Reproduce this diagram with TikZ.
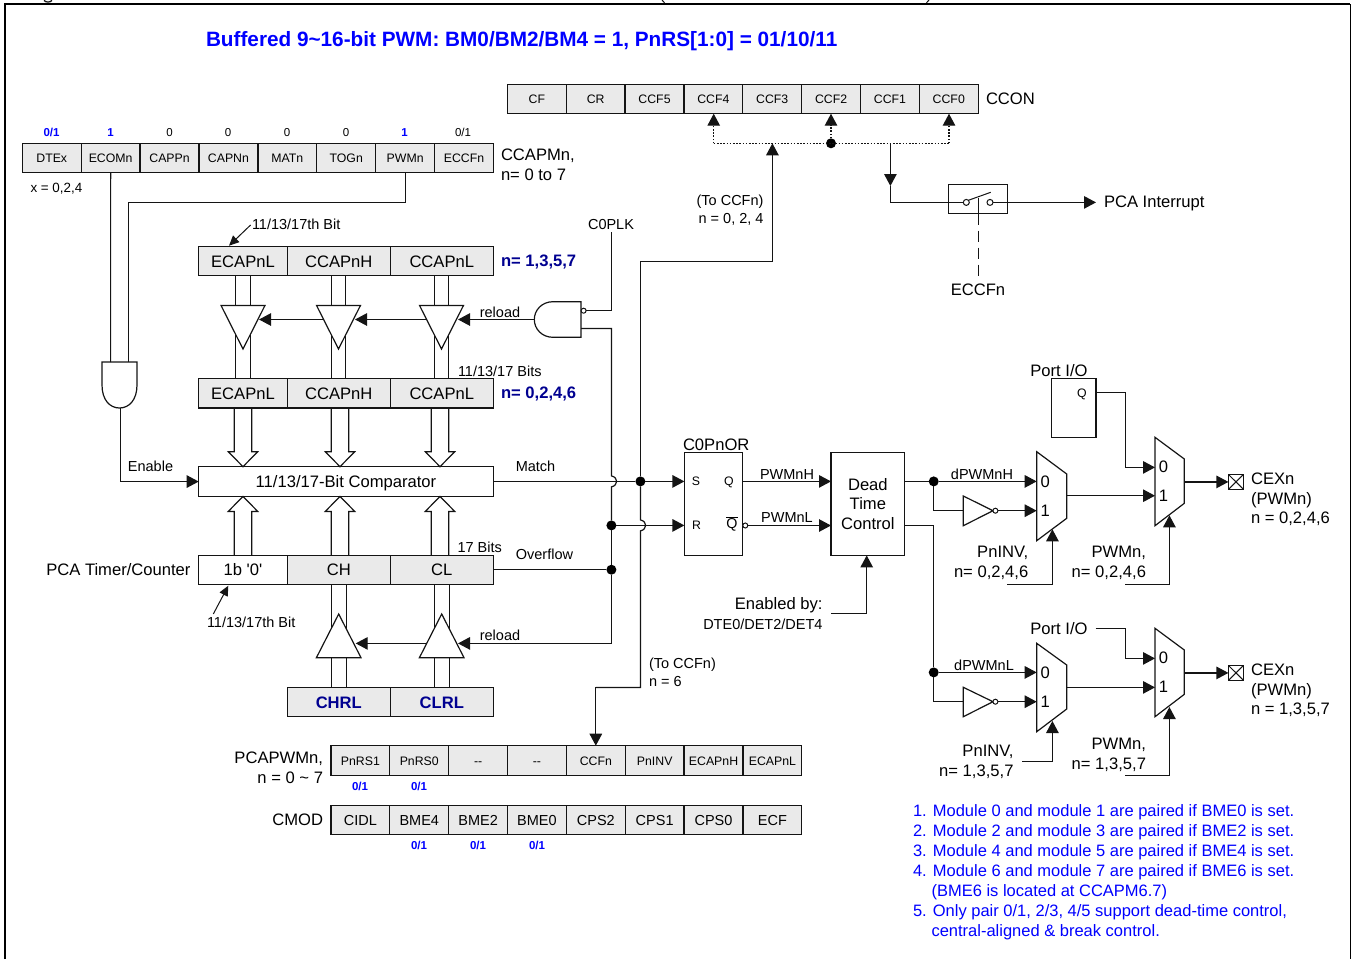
\documentclass[tikz,border=0pt]{standalone}
\usepackage{fontspec}
\setmainfont{Liberation Sans}
\usetikzlibrary{arrows.meta}
\definecolor{cellgray}{HTML}{EAEAEA}
\definecolor{linec}{HTML}{141414}
\definecolor{noteblue}{HTML}{0000FF}
\definecolor{navyt}{HTML}{000090}
\tikzset{
  conn/.style={draw=linec,line width=1.2pt,line join=miter},
  arr/.style={conn,-{Triangle[length=12pt,width=12.5pt]}},
  sarr/.style={conn,line width=1pt,-{Triangle[length=10pt,width=9pt]}},
  dotl/.style={conn,dash pattern=on 1.6pt off 1.6pt},
  shape box/.style={conn,fill=white},
  f20/.style={font=\fontsize{20.75}{24}\selectfont\bfseries,inner sep=0pt,outer sep=0pt},
  f16/.style={font=\fontsize{16.6}{20}\selectfont,text height=11.9pt,text depth=0pt,inner sep=0pt,outer sep=0pt},
  f14/.style={font=\fontsize{14.5}{18}\selectfont,text height=10.4pt,text depth=0pt,inner sep=0pt,outer sep=0pt},
  f13/.style={font=\fontsize{13.4}{16}\selectfont,text height=9.6pt,text depth=0pt,inner sep=0pt,outer sep=0pt},
  f12/.style={font=\fontsize{12.3}{15}\selectfont,text height=8.9pt,text depth=0pt,inner sep=0pt,outer sep=0pt},
  f11/.style={font=\fontsize{11.5}{14}\selectfont,text height=8.3pt,text depth=0pt,inner sep=0pt,outer sep=0pt},
  bluebit/.style={f11,font=\fontsize{11.5}{14}\selectfont\bfseries,text=noteblue},
  navylbl/.style={f16,font=\fontsize{16.6}{20}\selectfont\bfseries,text=navyt},
  note/.style={f16,font=\fontsize{16.5}{20}\selectfont,text=noteblue,anchor=west},
  reg/.style={draw=linec,fill=cellgray,line width=1.25pt,inner sep=0pt,outer sep=0pt},
  plain/.style={draw=linec,fill=white,line width=1.25pt,inner sep=0pt,outer sep=0pt},
  dotj/.style={circle,fill=black,inner sep=0pt,outer sep=0pt,minimum size=10pt},
  bubble/.style={circle,draw=linec,fill=white,line width=1pt,inner sep=0pt,outer sep=0pt,minimum size=5pt},
}
% box given by its edges: [style]{name}{x1}{x2}{y1}{y2}{text}
\newcommand{\cellbox}[7][reg]{\node[#1,minimum width={(#4-#3)*1pt},minimum height={(#6-#5)*1pt}] (#2) at ({(#3+#4)/2},{(#5+#6)/2}) {#7};}
% row of equal cells: {prefix}{x0}{width}{y1}{y2}{font style}{list}
\newcommand{\regrow}[7]{\foreach \t [count=\i from 0] in {#7} {\pgfmathsetmacro{\xa}{#2+\i*#3}\pgfmathsetmacro{\xb}{#2+(\i+1)*#3}\cellbox[reg,#6]{#1\i}{\xa}{\xb}{#4}{#5}{\t}}}
% hollow bus arrows
\newcommand{\busdown}[3]{\draw[conn] ({#1-8.8},#2)--({#1-8.8},{#3-15})--({#1-14.7},{#3-15})--(#1,#3)--({#1+14.7},{#3-15})--({#1+8.8},{#3-15})--({#1+8.8},#2);}
\newcommand{\busup}[3]{\draw[conn] ({#1-8.8},#2)--({#1-8.8},{#3+15})--({#1-14.7},{#3+15})--(#1,#3)--({#1+14.7},{#3+15})--({#1+8.8},{#3+15})--({#1+8.8},#2);}
\begin{document}
\begin{tikzpicture}[x=1pt,y=-1pt]
\useasboundingbox (0,0) rectangle (1351,959);
\begin{scope}
\clip (0,0) rectangle (1351,959);
\draw[draw=black,line width=2pt] (5,959)--(5,4)--(1350,4);
\draw[draw=black,line width=1pt] (1350,4)--(1350,959);
\draw[draw=linec,line width=1.3pt] (44,0.4) .. controls (46,2.6) and (50,2.6) .. (52,0.4);
\draw[draw=linec,line width=1pt] (662,0)--(664.5,2.8);
\draw[draw=linec,line width=1pt] (929,0)--(926.5,2.8);
\end{scope}

\node[f20,text=noteblue,anchor=west] (title) at (206,41) {Buffered 9\textasciitilde16-bit PWM: BM0/BM2/BM4 = 1, PnRS[1:0] = 01/10/11};

% ---------- CCON
\regrow{ccon}{507.4}{58.85}{84.4}{113.7}{f12}{CF,CR,CCF5,CCF4,CCF3,CCF2,CCF1,CCF0}
\node[f16,anchor=west] (cconl) at (986,98.7) {CCON};

% ---------- CCAPMn
\regrow{cm}{22.3}{58.9}{143.5}{172.7}{f12}{DTEx,ECOMn,CAPPn,CAPNn,MATn,TOGn,PWMn,ECCFn}
\node[bluebit] (b0) at (51.5,132.5) {0/1};
\node[bluebit] (b1) at (110.5,132.5) {1};
\node[f11] (b2) at (169.5,132.5) {0};
\node[f11] (b3) at (228,132.5) {0};
\node[f11] (b4) at (287,132.5) {0};
\node[f11] (b5) at (346,132.5) {0};
\node[bluebit] (b6) at (404.5,132.5) {1};
\node[f11] (b7) at (463,132.5) {0/1};
\node[f16,anchor=west] (cml1) at (501,155) {CCAPMn,};
\node[f16,anchor=west] (cml2) at (501,175) {n= 0 to 7};
\node[f13,anchor=west] (xl) at (30.5,188) {x = 0,2,4};

% ---------- AND gate (Enable)
\draw[shape box] (102,362)--(137,362)--(137,385) .. controls (137,400) and (129,408) .. (119.5,408) .. controls (110,408) and (102,400) .. (102,385)--cycle;
\coordinate (andA) at (110.6,362);
\coordinate (andB) at (128.4,362);
\coordinate (andO) at (120.4,408);
\draw[conn] (cm1.south) -- (andA);
\coordinate (pw1) at (cm6.south |- 0,202.5);
\draw[conn] (cm6.south) -- (pw1) -| (andB);

% ---------- capture register rows
\cellbox[reg,f16]{r1a}{198.7}{287.3}{246.4}{275.7}{ECAPnL}
\cellbox[reg,f16]{r1b}{287.3}{390.3}{246.4}{275.7}{CCAPnH}
\cellbox[reg,f16]{r1c}{390.3}{493.3}{246.4}{275.7}{CCAPnL}
\cellbox[reg,f16]{r2a}{198.7}{287.3}{378.4}{408}{ECAPnL}
\cellbox[reg,f16]{r2b}{287.3}{390.3}{378.4}{408}{CCAPnH}
\cellbox[reg,f16]{r2c}{390.3}{493.3}{378.4}{408}{CCAPnL}
\node[navylbl,anchor=west] (n1) at (501,260.5) {n= 1,3,5,7};
\node[navylbl,anchor=west] (n2) at (501,392.5) {n= 0,2,4,6};
\node[f14,anchor=west] (bit1) at (252,224.5) {11/13/17th Bit};
\coordinate (bit1a) at (250.6,225);
\coordinate (bit1b) at (229,245.7);
\draw[sarr] (bit1a) -- (bit1b);
\node[f14,anchor=west] (bits1) at (458,371) {11/13/17 Bits};

% reload buffers upper
\foreach \cx/\top/\bot in {243/r1a/r2a,338.5/r1b/r2b,441.5/r1c/r2c}{
  \draw[conn] ({\cx-7.3},0 |- \top.south) -- ({\cx-7.3},0 |- \bot.north);
  \draw[conn] ({\cx+7.3},0 |- \top.south) -- ({\cx+7.3},0 |- \bot.north);
  \draw[shape box] ({\cx-22},305.4)--({\cx+22},305.4)--(\cx,349)--cycle;
}

% NAND gate
\draw[shape box] (553,301.7)--(581,301.7)--(581,337.3)--(553,337.3) .. controls (542,337.3) and (534.3,329) .. (534.3,319.5) .. controls (534.3,310) and (542,301.7) .. (553,301.7)--cycle;
\node[bubble] (nb) at (583.6,310.7) {};
\coordinate (nO) at (534.3,319.5);
\coordinate (t3r) at (458,319.5);
\coordinate (t3l) at (427,319.5);
\coordinate (t2r) at (355,319.5);
\coordinate (t2l) at (324,319.5);
\coordinate (t1r) at (259,319.5);
\draw[arr] (nO) -- (t3r);
\draw[arr] (t3l) -- (t2r);
\draw[arr] (t2l) -- (t1r);
\node[f14] (rel1) at (500,312) {reload};
\node[f14] (cplk) at (611,224) {C0PLK};
\coordinate (cp1) at (611.4,232);
\draw[conn] (cp1) |- (nb.east);
\coordinate (nB) at (581,328.4);

% ---------- comparator and buses
\cellbox[plain,f16]{cmp}{198.7}{493.3}{466.7}{496.4}{11/13/17-Bit Comparator}
\cellbox[plain,f16]{t0}{198.7}{287.3}{555.4}{584.4}{1b \textquotesingle0\textquotesingle}
\cellbox[reg,f16]{tch}{287.3}{390.3}{555.4}{584.4}{CH}
\cellbox[reg,f16]{tcl}{390.3}{493.3}{555.4}{584.4}{CL}
\cellbox[reg,navylbl]{chrl}{287.3}{390.3}{687.4}{716.7}{CHRL}
\cellbox[reg,navylbl]{clrl}{390.3}{493.3}{687.4}{716.7}{CLRL}
\busdown{243}{408}{466.7}
\busdown{340}{408}{466.7}
\busdown{440}{408}{466.7}
\busup{243}{555.4}{496.4}
\busup{340}{555.4}{496.4}
\busup{440}{555.4}{496.4}
\node[f16,anchor=east] (pca) at (190.5,569.5) {PCA Timer/Counter};
\coordinate (enb) at (cmp.west);
\node[f14] (enl) at (150.5,466.5) {Enable};
\draw[arr] (andO) |- (enb);
\node[f14,anchor=west] (bit2) at (207,622.5) {11/13/17th Bit};
\coordinate (bit2a) at (213.3,614);
\coordinate (bit2b) at (228.3,585.7);
\draw[sarr] (bit2a) -- (bit2b);
\node[f14,anchor=west] (bits2) at (457.5,547) {17 Bits};

% reload buffers lower
\foreach \cx/\top/\bot in {338.7/tch/chrl,441.7/tcl/clrl}{
  \draw[conn] ({\cx-7.5},0 |- \top.south) -- ({\cx-7.5},0 |- \bot.north);
  \draw[conn] ({\cx+7.5},0 |- \top.south) -- ({\cx+7.5},0 |- \bot.north);
  \draw[shape box] ({\cx-22.3},657.7)--({\cx+22.3},657.7)--(\cx,614)--cycle;
}
\coordinate (lt2r) at (355.7,643.4);
\coordinate (lt2l) at (426.5,643.4);
\coordinate (lt1r) at (458,643.4);
\draw[arr] (lt2l) -- (lt2r);
\node[f14] (rel2) at (500,635) {reload};

% ---------- Match / Overflow nets
\node[f14] (matchl) at (535.5,466) {Match};
\node[f14] (ovl) at (544.5,554) {Overflow};
\node[dotj] (jm) at (640.4,481.4) {};
\node[dotj] (jr) at (611.4,525.4) {};
\node[dotj] (jo) at (611.4,569.7) {};
\coordinate (ccup) at (772.4,143.3);
\coordinate (ccmid) at (640.4,261.4);
\coordinate (cc6a) at (640.4,687.4);
\coordinate (cc6b) at (595.8,687.4);
\coordinate (pwf) at (595.8,745.7);
\draw[conn] (cmp.east |- jm) -- (jm);
\draw[conn] (tcl.east |- jo) -- (jo);
% vertical with bump over Match
\coordinate (nb1) at (611.4,475.9);
\coordinate (nb2) at (611.4,486.9);
\draw[conn] (nB) -| (nb1) .. controls (618.4,477.4) and (618.4,485.4) .. (nb2) -- (jr);
\draw[conn] (jr) -- (jo);
\draw[arr] (jo) |- (lt1r);
% vertical with bump over R line
\coordinate (mb1) at (640.4,519.9);
\coordinate (mb2) at (640.4,530.9);
\draw[conn] (jm) -- (mb1) .. controls (647.4,521.4) and (647.4,529.4) .. (mb2) -- (cc6a) -- (cc6b);
\draw[arr] (cc6b) -- (pwf);
\draw[arr] (jm) -- (ccmid) -| (ccup);
\node[f14,anchor=east] (tc1) at (763.5,200) {(To CCFn)};
\node[f14,anchor=east] (tc2) at (763.5,218) {n = 0, 2, 4};
\node[f14,anchor=west] (tc3) at (649,663) {(To CCFn)};
\node[f14,anchor=west] (tc4) at (649,681.5) {n = 6};

% CCF distribution
\node[dotj] (jc) at (831,143.3) {};
\coordinate (dl) at (713.7,143.3);
\coordinate (dr) at (949,143.3);
\coordinate (ct4) at (713.7,113.7);
\coordinate (ct2) at (831,113.7);
\coordinate (ct0) at (949,113.7);
\draw[dotl] (dl) -- (dr);
\draw[dotl,-{Triangle[length=12pt,width=12.5pt]}] (dl) -- (ct4);
\draw[dotl,-{Triangle[length=12pt,width=12.5pt]}] (jc) -- (ct2);
\draw[dotl,-{Triangle[length=12pt,width=12.5pt]}] (dr) -- (ct0);
\coordinate (dn) at (890.4,143.3);
\coordinate (dnm) at (890.4,186);
\draw[arr] (dn) -- (dnm);

% Interrupt switch
\cellbox[plain]{sw}{948.7}{1007.7}{184.4}{213.7}{}
\node[bubble,minimum size=6pt] (swa) at (966.3,202.4) {};
\node[bubble,minimum size=6pt] (swb) at (990,202.4) {};
\coordinate (swin) at (890.4,202.4);
\coordinate (pcaT) at (1096,202.4);
\draw[conn] (dnm) -- (swin) -- (swa.west);
\draw[arr] (swb.east) -- (pcaT);
\coordinate (lever) at (990.7,192.3);
\coordinate (levs) at (978.3,198);
\draw[conn,line width=1pt] (swa.north east) -- (lever);
\draw[conn,line width=1pt] (levs) -- (sw.south -| levs);
\coordinate (swd) at (978.3,278);
\draw[conn,dash pattern=on 11pt off 6pt] (sw.south -| swd) -- (swd);
\node[f16,anchor=west] (pcai) at (1104,201.8) {PCA Interrupt};
\node[f16] (eccfl) at (978,289.7) {ECCFn};

% ---------- PCAPWM and CMOD
\regrow{pw}{331}{58.85}{745.7}{775.7}{f12}{PnRS1,PnRS0,{-{}-},{-{}-},CCFn,PnINV,ECAPnH,ECAPnL}
\regrow{md}{331}{58.85}{805.4}{834.3}{f14}{CIDL,BME4,BME2,BME0,CPS2,CPS1,CPS0,ECF}
\node[f16,anchor=east] (pwl1) at (323,757.5) {PCAPWMn,};
\node[f16,anchor=east] (pwl2) at (323,777.5) {n = 0 \textasciitilde{} 7};
\node[f16,anchor=east] (mdl) at (323,819.5) {CMOD};
\node[bluebit] (p0) at (360,786) {0/1};
\node[bluebit] (p1) at (419,786) {0/1};
\node[bluebit] (m0) at (419,845) {0/1};
\node[bluebit] (m1) at (478,845) {0/1};
\node[bluebit] (m2) at (537,845) {0/1};

% ---------- flip-flop
\cellbox[plain]{ff}{684.4}{742.3}{452.4}{555.4}{}
\node[f16,anchor=west] (ffn) at (683,444.5) {C0PnOR};
\node[f12] (ffs) at (696,481) {S};
\node[f12] (ffr) at (696.5,525) {R};
\node[f12] (ffq) at (729,481) {Q};
\node[font=\fontsize{14.3}{18}\selectfont,inner sep=0pt] (ffqb) at (732,524) {$\overline{\mbox{Q}}$};
\node[bubble] (ffb) at (745.3,525.5) {};
\coordinate (ffsI) at (684.4,481.4);
\coordinate (ffrI) at (684.4,525.4);
\coordinate (ffqO) at (742.3,481.4);
\draw[arr] (jm) -- (ffsI);
\draw[arr] (jr) -- (ffrI);

% ---------- dead time
\cellbox[plain,font=\fontsize{16.6}{19.2}\selectfont,align=center]{dt}{831}{904.7}{452.4}{555.4}{Dead\\Time\\Control}
\coordinate (dtH) at (831,481.4);
\coordinate (dtL) at (831,525.5);
\draw[arr] (ffqO) -- (dtH);
\draw[arr] (ffb.east) -- (dtL);
\node[f14] (lH) at (787,474) {PWMnH};
\node[f14] (lL) at (787,517) {PWMnL};
\node[f16,anchor=east] (enb1) at (822.5,603.5) {Enabled by:};
\node[f14,anchor=east] (enb2) at (822.5,624) {DTE0/DET2/DET4};
\coordinate (enS) at (831,613.7);
\coordinate (enT) at (866.7,555.4);
\draw[arr] (enS) -| (enT);

% ---------- upper output
\node[dotj] (ju) at (933.7,481.4) {};
\coordinate (dtO1) at (904.7,481.4);
\coordinate (m1a0) at (1036.7,481.4);
\coordinate (m1a1) at (1036.7,510.7);
\coordinate (invu) at (963.3,510.7);
\draw[conn] (dtO1) -- (ju);
\draw[arr] (ju) -- (m1a0);
\draw[conn] (ju) |- (invu);
\draw[shape box] (963.3,496)--(993,510.7)--(963.3,525.7)--cycle;
\node[bubble] (invub) at (995.4,510.7) {};
\draw[arr] (invub.east) -- (m1a1);
\node[f14] (dH) at (982,474.5) {dPWMnH};
\draw[shape box] (1036.7,451.7)--(1066.7,474)--(1066.7,518.3)--(1036.7,540.7)--cycle;
\node[f16] (m1z) at (1045.3,482) {0};
\node[f16] (m1o) at (1045.3,510.5) {1};
\coordinate (m1O) at (1066.7,495.7);
\coordinate (m2a1) at (1155,495.7);
\coordinate (m2a0) at (1155,467.4);
\draw[arr] (m1O) -- (m2a1);
\draw[shape box] (1155,437.3)--(1184.3,459)--(1184.3,503.3)--(1155,525.7)--cycle;
\node[f16] (m2z) at (1163.5,467) {0};
\node[f16] (m2o) at (1163.5,495.7) {1};
\cellbox[plain]{pq}{1051.7}{1096}{378.4}{437.3}{}
\node[f12] (pqq) at (1082,393) {Q};
\node[f16] (pl1) at (1059,370.5) {Port I/O};
\coordinate (pqO) at (1096,392.7);
\coordinate (pqK) at (1125.4,392.7);
\draw[arr] (pqO) -- (pqK) |- (m2a0);
\cellbox[plain]{xb1}{1228.4}{1243.5}{474.4}{489.4}{}
\draw[conn,line width=1pt] (xb1.north west)--(xb1.south east) (xb1.north east)--(xb1.south west);
\coordinate (m2O) at (1184.3,481.9);
\draw[arr] (m2O) -- (xb1.west);
\node[f16,anchor=west] (cx1) at (1251,478.5) {CEXn};
\node[f16,anchor=west] (cx2) at (1251,498.5) {(PWMn)};
\node[f16,anchor=west] (cx3) at (1251,518) {n = 0,2,4,6};
\node[f16,anchor=east] (i1) at (1028.3,551.7) {PnINV,};
\node[f16,anchor=east] (i2) at (1028.3,571.7) {n= 0,2,4,6};
\node[f16,anchor=east] (w1) at (1146,551.5) {PWMn,};
\node[f16,anchor=east] (w2) at (1146,571.5) {n= 0,2,4,6};
\coordinate (i1s) at (1007.3,584.4);
\coordinate (i1t) at (1052.4,529.3);
\coordinate (w1s) at (1125,584.4);
\coordinate (w1t) at (1169.4,515.3);
\draw[arr] (i1s) -| (i1t);
\draw[arr] (w1s) -| (w1t);

% ---------- lower output
\node[dotj] (jl) at (933.7,672.4) {};
\coordinate (dtO2) at (904.7,525.7);
\coordinate (m3a0) at (1036.7,672.4);
\coordinate (m3a1) at (1036.7,701.7);
\coordinate (invl) at (963.3,701.7);
\draw[conn] (dtO2) -| (jl);
\draw[arr] (jl) -- (m3a0);
\draw[conn] (jl) |- (invl);
\draw[shape box] (963.3,687.3)--(993,701.7)--(963.3,716.7)--cycle;
\node[bubble] (invlb) at (995.4,701.7) {};
\draw[arr] (invlb.east) -- (m3a1);
\node[f14] (dL) at (984,665) {dPWMnL};
\draw[shape box] (1036.7,643.3)--(1066.7,665)--(1066.7,709)--(1036.7,731.7)--cycle;
\node[f16] (m3z) at (1045.3,673) {0};
\node[f16] (m3o) at (1045.3,701.7) {1};
\coordinate (m3O) at (1066.7,687.4);
\coordinate (m4a1) at (1155,687.4);
\coordinate (m4a0) at (1155,658.4);
\draw[arr] (m3O) -- (m4a1);
\draw[shape box] (1155,628.3)--(1184.3,650)--(1184.3,694.3)--(1155,716.7)--cycle;
\node[f16] (m4z) at (1163.5,658) {0};
\node[f16] (m4o) at (1163.5,687) {1};
\node[f16] (pl2) at (1059,628.5) {Port I/O};
\coordinate (pl2O) at (1095.7,628.4);
\coordinate (pl2K) at (1125.4,628.4);
\draw[arr] (pl2O) -- (pl2K) |- (m4a0);
\cellbox[plain]{xb2}{1228.4}{1243.5}{665.4}{680.4}{}
\draw[conn,line width=1pt] (xb2.north west)--(xb2.south east) (xb2.north east)--(xb2.south west);
\coordinate (m4O) at (1184.3,672.9);
\draw[arr] (m4O) -- (xb2.west);
\node[f16,anchor=west] (cx4) at (1251,669.5) {CEXn};
\node[f16,anchor=west] (cx5) at (1251,689.5) {(PWMn)};
\node[f16,anchor=west] (cx6) at (1251,709) {n = 1,3,5,7};
\node[f16,anchor=east] (i3) at (1013.5,751) {PnINV,};
\node[f16,anchor=east] (i4) at (1013.5,771) {n= 1,3,5,7};
\node[f16,anchor=east] (w3) at (1146,743.5) {PWMn,};
\node[f16,anchor=east] (w4) at (1146,763.5) {n= 1,3,5,7};
\coordinate (i3s) at (1022.3,761.4);
\coordinate (i3t) at (1052.4,721);
\coordinate (w3s) at (1125,775.4);
\coordinate (w3t) at (1169.4,707);
\draw[arr] (i3s) -| (i3t);
\draw[arr] (w3s) -| (w3t);

% ---------- notes
\node[note] (nt1) at (913,811) {1. Module 0 and module 1 are paired if BME0 is set.};
\node[note] (nt2) at (913,831) {2. Module 2 and module 3 are paired if BME2 is set.};
\node[note] (nt3) at (913,851) {3. Module 4 and module 5 are paired if BME4 is set.};
\node[note] (nt4) at (913,871) {4. Module 6 and module 7 are paired if BME6 is set.};
\node[note] (nt5) at (931.5,891) {(BME6 is located at CCAPM6.7)};
\node[note] (nt6) at (913,911) {5. Only pair 0/1, 2/3, 4/5 support dead-time control,};
\node[note] (nt7) at (931.5,931) {central-aligned \& break control.};
\end{tikzpicture}
\end{document}
